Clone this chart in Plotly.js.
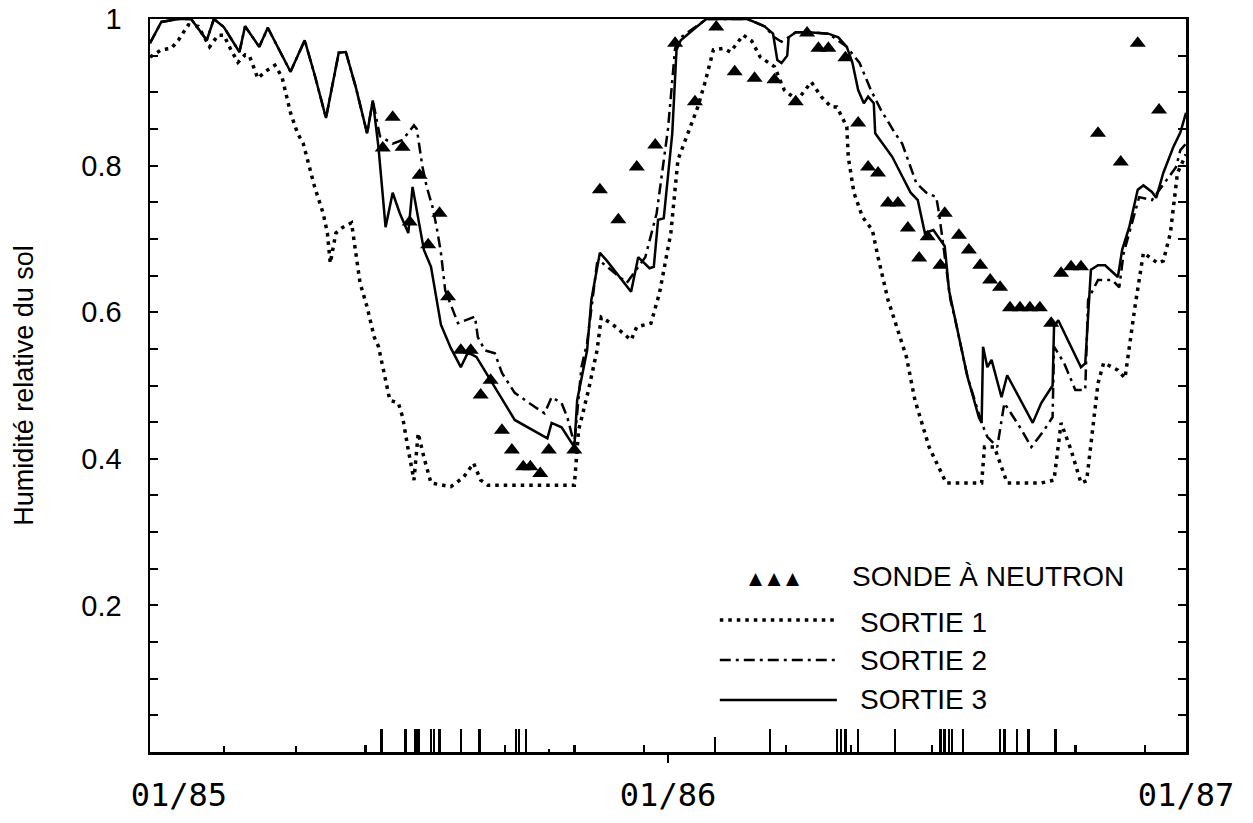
<!DOCTYPE html>
<html>
<head>
<meta charset="utf-8">
<script src="https://cdn.plot.ly/plotly-3.0.1.min.js"></script>
<style>html,body{margin:0;padding:0;background:#fff;}#chart{width:1253px;height:823px;}</style>
</head>
<body>
<div id="chart"></div>
<script>
// x values are days since 01/01/1985
const tickDays = [0, 365, 730];
const tickLabels = ['\u00a0\u00a0\u00a001/85', '01/86', '01/87'];

const s1Days = [0,8,15,20,27,34,42,48,52,57,62,67,70,76,81,88,93,99,104,108,116,122,125,127,131,136,142,145,148,153,158,161,164,169,175,178,182,186,189,193,198,212,221,228,233,238,299,302,309,315,318,325,339,343,353,359,367,372,379,386,391,397,404,409,418,424,430,440,447,456,466,473,480,484,491,492,496,502,509,513,520,533,539,549,561,586,588,595,604,628,637,642,649,656,660,668,672,682,687,694,700,710,714,719,724,730];
const s1Vals = [0.948,0.958,0.96,0.971,0.992,0.99,0.962,0.978,0.978,0.958,0.941,0.951,0.95,0.919,0.928,0.937,0.921,0.872,0.844,0.83,0.771,0.735,0.708,0.667,0.708,0.716,0.722,0.681,0.64,0.607,0.566,0.553,0.525,0.48,0.476,0.457,0.412,0.371,0.435,0.402,0.367,0.362,0.375,0.394,0.371,0.364,0.364,0.439,0.494,0.548,0.593,0.585,0.562,0.58,0.585,0.626,0.708,0.808,0.844,0.88,0.913,0.958,0.96,0.955,0.978,0.97,0.948,0.935,0.903,0.889,0.914,0.894,0.88,0.88,0.853,0.812,0.763,0.73,0.712,0.675,0.617,0.539,0.48,0.416,0.367,0.367,0.416,0.416,0.367,0.367,0.371,0.449,0.412,0.367,0.37,0.503,0.531,0.521,0.51,0.607,0.681,0.667,0.67,0.708,0.79,0.815];

const s2Days = [0,8,20,29,40,45,52,63,67,77,83,99,109,116,124,133,138,145,153,157,162,171,178,186,188,192,195,199,202,205,208,217,229,231,236,243,248,257,271,278,283,290,294,299,304,308,315,317,336,349,357,365,370,374,385,392,421,433,440,445,450,455,464,478,491,500,508,515,525,530,535,540,547,554,556,561,564,567,576,586,590,597,602,614,621,630,636,637,644,652,659,661,668,678,683,686,690,697,706,713,723,726,730];
const s2Vals = [0.967,0.996,1.0,1.0,0.971,1.0,0.989,0.955,0.99,0.962,0.988,0.928,0.971,0.924,0.865,0.954,0.955,0.907,0.844,0.889,0.84,0.83,0.835,0.855,0.85,0.798,0.771,0.744,0.716,0.681,0.63,0.585,0.594,0.566,0.548,0.544,0.517,0.49,0.471,0.462,0.484,0.476,0.457,0.42,0.525,0.558,0.667,0.67,0.64,0.675,0.735,0.85,0.96,0.975,0.99,1.0,1.0,0.99,0.975,0.969,0.975,0.982,0.982,0.98,0.962,0.94,0.903,0.876,0.844,0.83,0.803,0.776,0.763,0.757,0.735,0.662,0.617,0.593,0.512,0.449,0.43,0.416,0.476,0.44,0.416,0.439,0.457,0.553,0.531,0.494,0.494,0.617,0.644,0.644,0.634,0.68,0.708,0.757,0.753,0.771,0.798,0.821,0.83];

const s3Days = [0,8,20,29,40,45,52,63,67,77,83,99,109,116,124,133,138,145,153,157,161,166,171,176,182,185,193,198,205,212,219,224,230,240,257,280,283,290,299,301,308,311,315,317,322,339,344,352,355,358,362,368,371,374,385,392,421,433,439,442,445,449,450,455,464,478,485,491,495,499,503,506,510,511,523,536,541,546,552,560,563,568,576,584,586,587,590,593,600,604,622,628,636,637,640,656,659,663,668,673,682,685,690,696,700,706,709,714,721,726,730];
const s3Vals = [0.967,0.996,1.0,1.0,0.971,1.0,0.989,0.955,0.99,0.962,0.988,0.928,0.971,0.924,0.865,0.954,0.955,0.907,0.844,0.889,0.825,0.716,0.763,0.735,0.708,0.771,0.685,0.662,0.583,0.551,0.525,0.545,0.539,0.507,0.453,0.428,0.449,0.443,0.416,0.48,0.548,0.617,0.662,0.681,0.67,0.628,0.675,0.66,0.662,0.726,0.728,0.844,0.958,0.971,0.989,1.0,1.0,0.99,0.98,0.944,0.94,0.95,0.975,0.982,0.982,0.98,0.975,0.962,0.94,0.903,0.885,0.894,0.885,0.844,0.812,0.763,0.753,0.708,0.712,0.69,0.63,0.585,0.512,0.457,0.449,0.553,0.525,0.535,0.484,0.514,0.449,0.476,0.5,0.58,0.589,0.525,0.53,0.658,0.664,0.664,0.648,0.685,0.716,0.767,0.773,0.764,0.756,0.79,0.825,0.845,0.872];

const probeDays = [164,171,178,183,190,196,204,210,219,226,233,240,248,255,263,268,275,281,299,317,330,343,356,370,384,399,412,426,440,455,463,471,478,490,499,506,513,520,527,534,542,548,557,560,570,577,585,592,599,606,613,620,627,635,642,649,656,668,684,696,711];
const probeVals = [0.824,0.866,0.825,0.723,0.787,0.692,0.735,0.621,0.548,0.548,0.487,0.507,0.439,0.412,0.389,0.389,0.38,0.412,0.412,0.767,0.726,0.798,0.828,0.967,0.887,0.989,0.928,0.919,0.917,0.887,0.981,0.96,0.96,0.947,0.858,0.798,0.79,0.749,0.749,0.715,0.674,0.703,0.664,0.735,0.705,0.685,0.664,0.644,0.634,0.606,0.606,0.606,0.606,0.585,0.653,0.662,0.662,0.844,0.805,0.967,0.876];

// event marks along the time axis (relative heights)
const eventDays = [52,103,152,163,180,187,189,198,200,204,219,232,250,258,260,265,281,299,348,398,437,448,484,487,490,494,499,525,551,557,560,563,565,573,599,602,611,619,638,652,701];
const eventVals = [0.008,0.008,0.009,0.032,0.032,0.032,0.032,0.032,0.032,0.032,0.032,0.032,0.009,0.032,0.032,0.032,0.004,0.009,0.009,0.02,0.032,0.009,0.032,0.032,0.032,0.009,0.032,0.032,0.009,0.032,0.032,0.032,0.032,0.032,0.032,0.032,0.032,0.032,0.032,0.009,0.009];

const traces = [
  {type:'bar', x:eventDays, y:eventVals, width:1.8, marker:{color:'#000', line:{width:0}}, name:'events', showlegend:false, hoverinfo:'skip'},
  {type:'scatter', mode:'lines', x:s1Days, y:s1Vals, name:'SORTIE 1', line:{color:'#000', width:3.5, dash:'3.5px,5px'}, showlegend:false},
  {type:'scatter', mode:'lines', x:s2Days, y:s2Vals, name:'SORTIE 2', line:{color:'#000', width:2.5, dash:'11px,5px,3px,5px'}, showlegend:false},
  {type:'scatter', mode:'lines', x:s3Days, y:s3Vals, name:'SORTIE 3', line:{color:'#000', width:2.5}, showlegend:false},
  {type:'scatter', mode:'markers', x:probeDays, y:probeVals, name:'SONDE À NEUTRON', marker:{symbol:'triangle-up', size:14, color:'#000'}, showlegend:false, cliponaxis:false}
];

const txtFont = {family:'Liberation Sans, Arial, sans-serif', size:28, color:'#000'};
const L0 = 0.550, L1 = 0.663;
const layout = {
  width:1253, height:823,
  margin:{l:150, r:67, t:19, b:71, pad:0},
  paper_bgcolor:'#fff', plot_bgcolor:'#fff',
  showlegend:false,
  bargap:0,
  xaxis:{
    range:[0,730], showgrid:false, zeroline:false,
    showline:true, linewidth:2.5, linecolor:'#000', mirror:true,
    tickmode:'array', tickvals:tickDays, ticktext:tickLabels,
    ticks:'', ticklabelstandoff:13,
    tickfont:{family:'DejaVu Sans Mono, monospace', size:32, color:'#000'},
    minor:{tickmode:'array', tickvals:[365], ticks:'outside', ticklen:8, tickwidth:2, tickcolor:'#000', showgrid:false}
  },
  xaxis2:{
    overlaying:'x', side:'top', range:[0,730], showgrid:false, zeroline:false,
    showline:false, showticklabels:false,
    tickmode:'linear', tick0:0, dtick:200, ticks:'inside', ticklen:14, tickwidth:2, tickcolor:'#000',
    minor:{tickmode:'linear', tick0:0, dtick:50, ticks:'inside', ticklen:7, tickwidth:2, tickcolor:'#000', showgrid:false}
  },
  yaxis:{
    range:[0,1], showgrid:false, zeroline:false,
    showline:true, linewidth:2.5, linecolor:'#000', mirror:'ticks',
    tickmode:'array', tickvals:[0.2,0.4,0.6,0.8,1], ticktext:['0.2','0.4','0.6','0.8','1'],
    ticks:'inside', ticklen:8, tickwidth:2, tickcolor:'#000',
    ticklabelstandoff:20,
    tickfont:{family:'Liberation Sans, Arial, sans-serif', size:29, color:'#000'},
    minor:{dtick:0.05, ticks:'inside', ticklen:8, tickwidth:2, tickcolor:'#000', showgrid:false},
    title:{text:'Humidité relative du sol', standoff:40, font:{family:'Liberation Sans, Arial, sans-serif', size:27, color:'#000'}}
  },
  shapes:[
    {type:'line', xref:'paper', yref:'paper', x0:L0, x1:L1, y0:0.180, y1:0.180, line:{color:'#000', width:3.5, dash:'3.5px,5px'}},
    {type:'line', xref:'paper', yref:'paper', x0:L0, x1:L1, y0:0.1255, y1:0.1255, line:{color:'#000', width:2.5, dash:'11px,5px,3px,5px'}},
    {type:'line', xref:'paper', yref:'paper', x0:L0, x1:L1, y0:0.0709, y1:0.0709, line:{color:'#000', width:2.5}}
  ],
  annotations:[
    {xref:'paper', yref:'paper', x:0.603, y:0.237, text:'▲ ▲ ▲', showarrow:false, xanchor:'center', yanchor:'middle', font:{family:'DejaVu Sans, sans-serif', size:17, color:'#000'}},
    {xref:'paper', yref:'paper', x:0.676, y:0.240, text:'SONDE À NEUTRON', showarrow:false, xanchor:'left', yanchor:'middle', font:txtFont},
    {xref:'paper', yref:'paper', x:0.683, y:0.177, text:'SORTIE 1', showarrow:false, xanchor:'left', yanchor:'middle', font:txtFont},
    {xref:'paper', yref:'paper', x:0.683, y:0.1255, text:'SORTIE 2', showarrow:false, xanchor:'left', yanchor:'middle', font:txtFont},
    {xref:'paper', yref:'paper', x:0.683, y:0.072, text:'SORTIE 3', showarrow:false, xanchor:'left', yanchor:'middle', font:txtFont}
  ]
};

Plotly.newPlot('chart', traces, layout, {staticPlot:true, displayModeBar:false});
</script>
</body>
</html>
